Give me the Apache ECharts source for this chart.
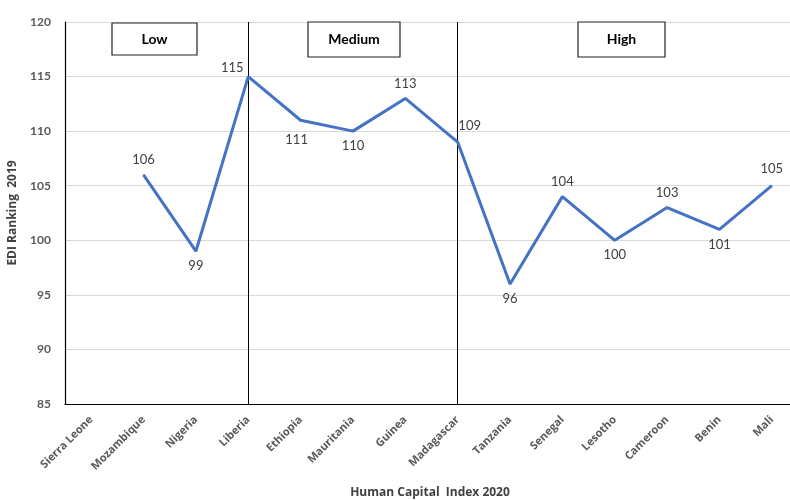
<!DOCTYPE html>
<html>
<head>
<meta charset="utf-8">
<script src="https://cdn.jsdelivr.net/npm/echarts@6/dist/echarts.min.js"></script>
<style>
  html, body { margin: 0; padding: 0; background: #fff; }
  #chart { width: 790px; height: 500px; }
</style>
</head>
<body>
<div id="chart"></div>
<script>
// Countries ordered by Human Capital Index 2020 group
const countries = ['Sierra Leone', 'Mozambique', 'Nigeria', 'Liberia', 'Ethiopia', 'Mauritania',
  'Guinea', 'Madagascar', 'Tanzania', 'Senegal', 'Lesotho', 'Cameroon', 'Benin', 'Mali'];
// EDI ranking 2019 (no value for Sierra Leone)
const ediRanking = [null, 106, 99, 115, 111, 110, 113, 109, 96, 104, 100, 103, 101, 105];
// Where each value label sits relative to its point
const labelSide = ['top', 'top', 'bottom', 'top', 'bottom', 'bottom', 'top', 'top',
  'bottom', 'top', 'bottom', 'top', 'bottom', 'top'];
// Group boundaries drawn as vertical rules
const groupBreaks = ['Liberia', 'Madagascar'];
const groupNames = ['Low', 'Medium', 'High'];

const FONT = 'Lato, "Open Sans", sans-serif';
const WIDE = '"Open Sans", Lato, sans-serif';
const chart = echarts.init(document.getElementById('chart'));

// Small nudges so labels clear the line and the group rules
const labelOffsets = {
  3: [-16, 6],   // Liberia
  4: [-4, 5],    // Ethiopia
  7: [12, -1],   // Madagascar
  13: [0, -2]    // Mali
};

const seriesData = ediRanking.map((v, i) => ({
  value: v,
  label: {
    position: labelSide[i],
    offset: labelOffsets[i] || [0, 0]
  }
}));

// Annotation boxes for the three groups
const boxes = [
  { x: 112, y: 23, w: 85, h: 32 },
  { x: 308, y: 22, w: 92, h: 35 },
  { x: 578, y: 22, w: 87, h: 35 }
];
const graphics = [];
boxes.forEach((b, i) => {
  graphics.push({
    type: 'rect',
    shape: { x: b.x, y: b.y, width: b.w, height: b.h },
    style: { fill: '#fff', stroke: '#222', lineWidth: 1.2 },
    z: 100
  });
  graphics.push({
    type: 'text',
    x: b.x + b.w / 2,
    y: b.y + b.h / 2,
    style: {
      text: groupNames[i], fill: '#000', font: 'bold 14px ' + FONT,
      textAlign: 'center', textVerticalAlign: 'middle'
    },
    z: 101
  });
});
graphics.push({
  type: 'text',
  x: 430, y: 493,
  style: {
    text: 'Human Capital  Index 2020', fill: '#404040', font: 'bold 12px ' + WIDE,
    textAlign: 'center', textVerticalAlign: 'middle'
  }
});

chart.setOption({
  animation: false,
  backgroundColor: '#fff',
  grid: {
    left: 65, top: 22, width: 733, height: 382,
    containLabel: false, outerBoundsMode: 'none'
  },
  xAxis: {
    type: 'category',
    data: countries,
    boundaryGap: true,
    axisLine: { show: true, lineStyle: { color: '#000', width: 1.2 } },
    axisTick: { show: false },
    axisLabel: {
      rotate: 45, color: '#595959', fontSize: 11, fontFamily: WIDE,
      fontWeight: 'bold', interval: 0, margin: 14
    }
  },
  yAxis: {
    type: 'value',
    min: 85, max: 120, interval: 5,
    name: 'EDI Ranking  2019',
    nameLocation: 'middle',
    nameGap: 46,
    nameTextStyle: { color: '#404040', fontSize: 12, fontWeight: 'bold', fontFamily: WIDE },
    axisLine: { show: true, lineStyle: { color: '#000', width: 1.2 } },
    axisTick: { show: false },
    axisLabel: { color: '#595959', fontSize: 12, fontFamily: FONT, fontWeight: 'bold', margin: 14 },
    splitLine: { show: true, lineStyle: { color: '#d9d9d9', width: 1 } }
  },
  series: [{
    type: 'line',
    data: seriesData,
    showSymbol: true,
    symbol: 'circle',
    symbolSize: 1,
    connectNulls: false,
    lineStyle: { color: '#4472C4', width: 3 },
    itemStyle: { color: '#4472C4' },
    label: {
      show: true, color: '#404040', fontSize: 13, fontFamily: FONT, distance: 8
    },
    markLine: {
      silent: true,
      symbol: 'none',
      label: { show: false },
      lineStyle: { color: '#000', width: 1, type: 'solid' },
      data: groupBreaks.map(c => ({ xAxis: c }))
    },
    z: 5
  }],
  graphic: graphics
});
</script>
</body>
</html>
